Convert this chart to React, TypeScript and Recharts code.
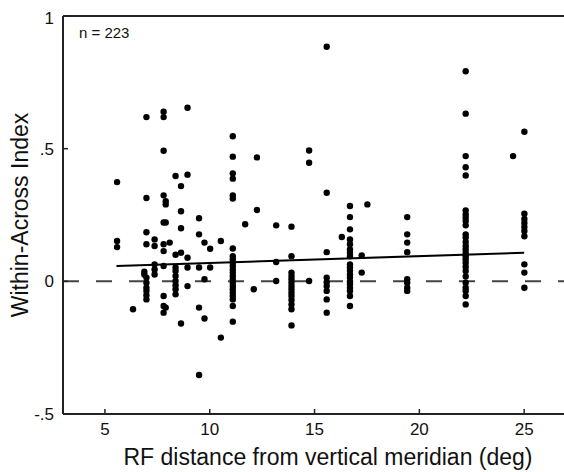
import React from 'react';
import { ScatterChart, Scatter, XAxis, YAxis, ReferenceLine, Label } from 'recharts';

// x positions of the columns of cells (deg)
const columnX = [
  5.58, 6.34, 6.98, 6.88, 7.37, 7.8, 7.9, 8.09, 8.37, 8.63, 8.94, 9.49, 9.75, 10.02, 10.53,
  11.1, 11.69, 12.1, 12.25, 13.17, 13.9, 14.74, 15.58, 16.3, 16.69, 17.25, 17.52, 19.42,
  22.21, 24.47, 25.01,
];

// Within-Across Index values of the cells in each column
const columnY: number[][] = [
  [0.374, 0.152, 0.129],
  [-0.105],
  [0.619, 0.314, 0.185, 0.14, 0.014, -0.005, -0.024, -0.036, -0.052, -0.068],
  [0.036, 0.026],
  [0.158, 0.133, 0.064, 0.045, 0.026],
  [0.639, 0.619, 0.492, 0.324, 0.222, 0.14, 0.114, 0.058, -0.055, -0.093, -0.118],
  [0.302, 0.29, 0.222, -0.099],
  [0.146],
  [0.397, 0.1, 0.052, 0.039, 0.02, 0.001, -0.015, -0.03, -0.049],
  [0.359, 0.264, 0.2, 0.108, -0.159],
  [0.654, 0.402, 0.089, 0.052, -0.018],
  [0.238, 0.177, 0.052, -0.099, -0.353],
  [0.146, 0.008, -0.14],
  [0.123, 0.052],
  [0.152, -0.212],
  [0.547, 0.47, 0.407, 0.387, 0.324, 0.312, 0.124, 0.095, 0.083, 0.07, 0.058, 0.045, 0.033, 0.02, 0.008, -0.005, -0.018, -0.03, -0.043, -0.055, -0.068, -0.093, -0.152],
  [0.215],
  [-0.03],
  [0.467, 0.269],
  [0.211, 0.073, 0.001],
  [0.206, 0.095, 0.033, 0.02, 0.008, -0.005, -0.018, -0.03, -0.043, -0.055, -0.07, -0.087, -0.105, -0.166],
  [0.493, 0.447, 0.001],
  [0.884, 0.334, 0.11, 0.014, -0.003, -0.018, -0.036, -0.068, -0.118],
  [0.167],
  [0.284, 0.242, 0.196, 0.158, 0.14, 0.12, 0.108, 0.095, 0.064, 0.052, 0.04, 0.026, 0.014, 0.0, -0.01, -0.024, -0.036, -0.055, -0.093],
  [0.098, 0.033],
  [0.29],
  [0.242, 0.177, 0.146, 0.11, 0.008, -0.005, -0.024, -0.036],
  [0.792, 0.632, 0.472, 0.43, 0.399, 0.267, 0.252, 0.24, 0.227, 0.211, 0.177, 0.165, 0.148, 0.133, 0.121, 0.108, 0.095, 0.083, 0.07, 0.055, 0.039, 0.018, -0.005, -0.024, -0.036, -0.055, -0.087],
  [0.472],
  [0.564, 0.255, 0.235, 0.22, 0.205, 0.19, 0.17, 0.064, 0.033, -0.024],
];

// regression line end points
const fitX = [5.55, 25];
const fitY = [0.058, 0.108];

const xTicks = [5, 10, 15, 20, 25];
const yTicks = [-0.5, 0, 0.5, 1];
const yTickLabels: Record<string, string> = { '-0.5': '-.5', '0': '0', '0.5': '.5', '1': '1' };

const points = columnX.flatMap((x, i) => columnY[i].map((y) => ({ x, y })));
const fit = fitX.map((x, i) => ({ x, y: fitY[i] }));

const FONT = '"Liberation Sans", Arial, sans-serif';
const AXIS = '#222';

const Dot = (props: any) => <circle cx={props.cx} cy={props.cy} r={3.2} fill="#000" />;

const YTitle = (props: any) => {
  const vb = props.viewBox || {};
  const cx = 12;
  const cy = (vb.y ?? 8) + (vb.height ?? 398) / 2;
  return (
    <text
      x={cx}
      y={cy}
      transform={`rotate(-90, ${cx}, ${cy})`}
      textAnchor="middle"
      dominantBaseline="central"
      fontFamily={FONT}
      fontSize={23}
      fill="#111"
    >
      Within-Across Index
    </text>
  );
};

export default function App() {
  return (
    <div style={{ position: 'absolute', left: 8, top: 8, width: 556, height: 464, overflow: 'visible' }}>
      <ScatterChart
        width={556}
        height={464}
        margin={{ top: 8, right: 0, bottom: 0, left: 0 }}
        style={{ fontFamily: FONT, overflow: 'visible' }}
      >
        <XAxis
          type="number"
          dataKey="x"
          domain={[3, 26.9]}
          ticks={xTicks}
          allowDataOverflow
          height={58}
          tickSize={-5}
          tickMargin={14}
          axisLine={{ stroke: AXIS, strokeWidth: 2 }}
          tickLine={{ stroke: AXIS, strokeWidth: 1.5 }}
          tick={{ fill: '#111', fontSize: 17, fontFamily: FONT }}
        />
        <YAxis
          type="number"
          dataKey="y"
          domain={[-0.5, 1]}
          ticks={yTicks}
          allowDataOverflow
          width={55}
          tickSize={-5}
          tickMargin={14}
          tickFormatter={(v: number) => yTickLabels[String(v)] ?? String(v)}
          axisLine={{ stroke: AXIS, strokeWidth: 2 }}
          tickLine={{ stroke: AXIS, strokeWidth: 1.5 }}
          tick={{ fill: '#111', fontSize: 17, fontFamily: FONT }}
        >
          <Label content={YTitle} />
        </YAxis>
        <ReferenceLine y={1} stroke={AXIS} strokeWidth={2} />
        <ReferenceLine y={0} stroke="#444" strokeWidth={2} strokeDasharray="16 17" />
        <Scatter data={points} shape={Dot} isAnimationActive={false} />
        <Scatter
          data={fit}
          line={{ stroke: '#000', strokeWidth: 2 }}
          shape={() => <g />}
          isAnimationActive={false}
        />
        <text x={71} y={30} fontFamily={FONT} fontSize={15} fill="#111">
          n = 223
        </text>
        <text x={320} y={457} textAnchor="middle" fontFamily={FONT} fontSize={23} fill="#111">
          RF distance from vertical meridian (deg)
        </text>
      </ScatterChart>
    </div>
  );
}
